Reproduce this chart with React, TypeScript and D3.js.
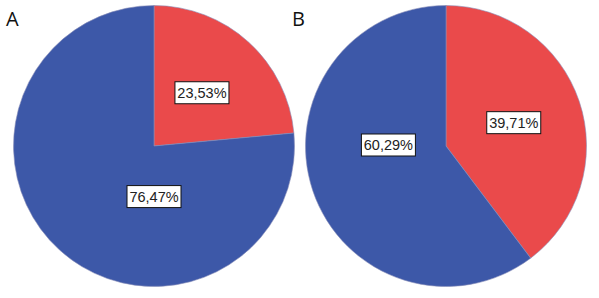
import React from "react";
import * as d3 from "d3";

const panelTitles = ["A", "B"];
const categories = ["Red", "Blue"];
const valuesA = [23.53, 76.47];
const valuesB = [39.71, 60.29];
const seriesValues = [valuesA, valuesB];
const labelTexts = [
  ["23,53%", "76,47%"],
  ["39,71%", "60,29%"],
];

const colors: Record<string, string> = { Red: "#ea4a4b", Blue: "#3d58a8" };

// layout
const W = 599;
const H = 298;
const R = 140.5;
const centers = [
  [154, 146],
  [446, 146],
];
// label anchor (angle in degrees clockwise from top, radius fraction) per slice
const labelAnchors = [
  [
    [42, 0.51],
    [180, 0.36],
  ],
  [
    [71, 0.51],
    [271, 0.41],
  ],
];
const titlePos = [
  [6, 26],
  [292, 26],
];

function Pie({ idx }: { idx: number }) {
  const vals = seriesValues[idx];
  const data = categories.map((c, i) => ({ cat: c, value: vals[i], label: labelTexts[idx][i], i }));
  const pie = d3.pie<any>().sort(null).value((d) => d.value);
  const arc = d3.arc<any>().innerRadius(0).outerRadius(R);
  const arcs = pie(data);
  const [cx, cy] = centers[idx];
  return (
    <g transform={`translate(${cx},${cy})`}>
      {arcs.map((a, i) => (
        <path key={i} d={arc(a) || ""} fill={colors[a.data.cat]} stroke="#8a8fb8" strokeWidth={0.6} />
      ))}
      {arcs.map((a, i) => {
        const [deg, frac] = labelAnchors[idx][i];
        const th = (deg * Math.PI) / 180;
        const x = Math.sin(th) * R * frac;
        const y = -Math.cos(th) * R * frac;
        const w = 54;
        const h = 22;
        return (
          <g key={"l" + i} transform={`translate(${x},${y})`}>
            <rect x={-w / 2} y={-h / 2} width={w} height={h} fill="#ffffff" stroke="#111" strokeWidth={1} />
            <text
              x={0}
              y={5}
              textAnchor="middle"
              fontFamily="Liberation Sans, Arial, sans-serif"
              fontSize={14.5}
              fill="#222"
            >
              {a.data.label}
            </text>
          </g>
        );
      })}
    </g>
  );
}

export default function App() {
  return (
    <svg
      width={W}
      height={H}
      style={{ position: "absolute", left: 0, top: 0, background: "#fff" }}
    >
      <rect width={W} height={H} fill="#fff" />
      {panelTitles.map((t, i) => (
        <text
          key={t}
          x={titlePos[i][0]}
          y={titlePos[i][1]}
          fontFamily="Open Sans, Liberation Sans, sans-serif"
          fontSize={20}
          fill="#111"
        >
          {t}
        </text>
      ))}
      <Pie idx={0} />
      <Pie idx={1} />
    </svg>
  );
}
